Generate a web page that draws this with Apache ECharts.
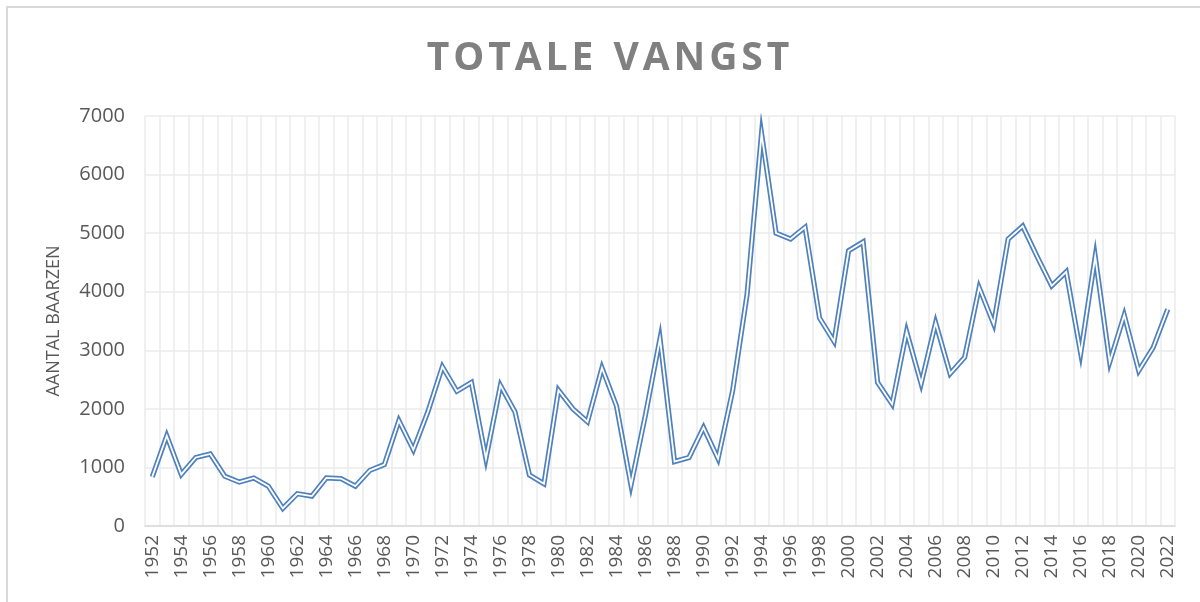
<!DOCTYPE html>
<html>
<head>
<meta charset="utf-8">
<script src="https://cdn.jsdelivr.net/npm/echarts@6/dist/echarts.min.js"></script>
<style>html,body{margin:0;padding:0;background:#fff}#c{width:1200px;height:602px}</style>
</head>
<body>
<div id="c"></div>
<script>
const years = [];
for (let y = 1952; y <= 2022; y++) years.push(String(y));
const vangst = [
  840, 1540, 880, 1170, 1230, 850, 750, 820, 680, 300,
  550, 510, 820, 810, 680, 950, 1050, 1800, 1300, 1950,
  2720, 2300, 2450, 1150, 2400, 1950, 870, 720, 2320, 2000,
  1780, 2700, 2050, 700, 1900, 3200, 1100, 1170, 1680, 1150,
  2300, 3950, 6700, 5000, 4900, 5100, 3550, 3150, 4700, 4850,
  2450, 2080, 3320, 2430, 3470, 2600, 2880, 4070, 3450, 4900,
  5120, 4600, 4100, 4340, 2950, 4600, 2800, 3600, 2650, 3050,
  3700
];
const yTicks = [0, 1000, 2000, 3000, 4000, 5000, 6000, 7000];
const chart = echarts.init(document.getElementById('c'));
const font = '"Open Sans", "DejaVu Sans", sans-serif';
chart.setOption({
  animation: false,
  backgroundColor: '#fff',
  graphic: [{
    type: 'rect', shape: {x: 7, y: 7, width: 1250, height: 650},
    style: {fill: 'none', stroke: '#d9d9d9', lineWidth: 2}, silent: true
  }],
  title: {
    text: 'T\u200AO\u200AT\u200AA\u200AL\u200AE  V\u200AA\u200AN\u200AG\u200AS\u200AT', left: 603, top: 34, textAlign: 'center',
    textStyle: {fontFamily: font, fontSize: 39, fontWeight: 'bold', color: '#808080'}
  },
  grid: {left: 145, right: 25, top: 116, bottom: 76, containLabel: false},
  xAxis: {
    type: 'category', data: years, boundaryGap: true,
    axisLine: {lineStyle: {color: '#d9d9d9', width: 1.5}},
    axisTick: {show: false},
    axisLabel: {interval: 1, rotate: 90, color: '#595959', fontFamily: font, fontSize: 19, margin: 9},
    splitLine: {show: true, interval: 0, lineStyle: {color: '#ebebeb', width: 1.5}}
  },
  yAxis: {
    type: 'value', min: yTicks[0], max: yTicks[yTicks.length - 1], interval: 1000,
    name: 'AANTAL BAARZEN', nameLocation: 'middle', nameRotate: 90, nameGap: 82,
    nameTextStyle: {color: '#595959', fontFamily: font, fontSize: 18},
    axisLine: {show: false}, axisTick: {show: false},
    axisLabel: {color: '#595959', fontFamily: font, fontSize: 20, margin: 20, formatter: v => String(v)},
    splitLine: {lineStyle: {color: '#ebebeb', width: 1.5}}
  },
  series: [{
    type: 'line', data: vangst, showSymbol: false, symbol: 'none',
    lineStyle: {color: '#4f81bd', width: 5.2, join: 'miter', miterLimit: 20}, z: 2
  }, {
    type: 'line', data: vangst, showSymbol: false, symbol: 'none',
    lineStyle: {color: '#ffffff', width: 1.8, join: 'miter', miterLimit: 20}, z: 3
  }]
});
</script>
</body>
</html>
